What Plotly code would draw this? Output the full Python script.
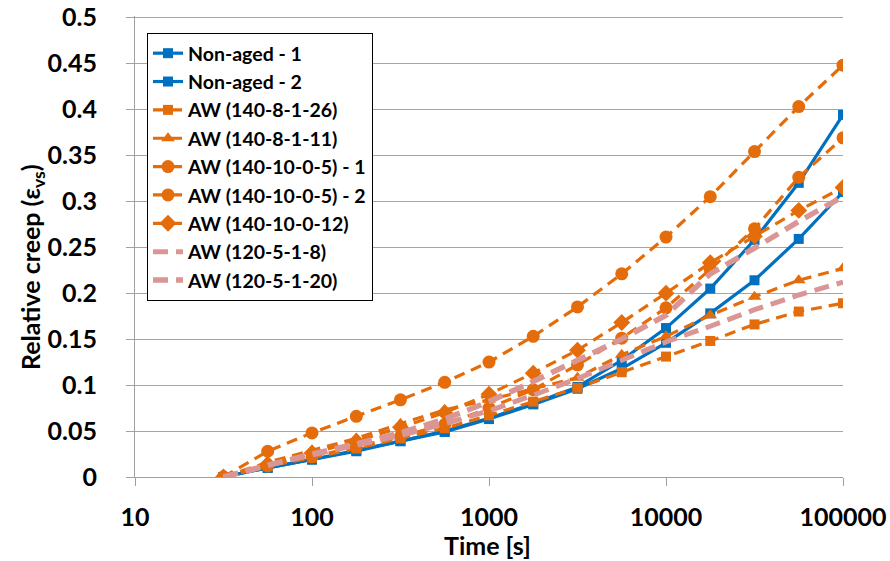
import plotly.graph_objects as go

time_s = [31.6, 56.2, 100, 178, 316, 562, 1000, 1778, 3162, 5623, 10000, 17783, 31623, 56234, 100000]

non_aged_1 = [0, 0.010, 0.019, 0.029, 0.039, 0.050, 0.064, 0.080, 0.098, 0.127, 0.162, 0.205, 0.258, 0.320, 0.394]
non_aged_2 = [0, 0.010, 0.019, 0.028, 0.039, 0.049, 0.063, 0.079, 0.096, 0.118, 0.146, 0.178, 0.214, 0.259, 0.310]
aw_140_8_1_26 = [0, 0.012, 0.021, 0.031, 0.042, 0.053, 0.067, 0.082, 0.097, 0.114, 0.131, 0.148, 0.166, 0.180, 0.189]
aw_140_8_1_11 = [0, 0.016, 0.029, 0.042, 0.058, 0.073, 0.084, 0.096, 0.108, 0.133, 0.153, 0.176, 0.196, 0.214, 0.227]
aw_140_10_0_5_1 = [0, 0.028, 0.048, 0.066, 0.084, 0.103, 0.125, 0.153, 0.185, 0.221, 0.261, 0.305, 0.354, 0.403, 0.448]
aw_140_10_0_5_2 = [0, 0.012, 0.022, 0.033, 0.044, 0.057, 0.075, 0.095, 0.122, 0.151, 0.184, 0.226, 0.270, 0.326, 0.369]
aw_140_10_0_12 = [0, 0.014, 0.026, 0.039, 0.054, 0.070, 0.090, 0.113, 0.138, 0.168, 0.200, 0.233, 0.262, 0.290, 0.315]
aw_120_5_1_8 = [0, 0.013, 0.024, 0.034, 0.045, 0.058, 0.072, 0.089, 0.107, 0.127, 0.147, 0.164, 0.182, 0.198, 0.212]
aw_120_5_1_20 = [0, 0.013, 0.025, 0.036, 0.048, 0.063, 0.082, 0.104, 0.127, 0.150, 0.176, 0.221, 0.249, 0.278, 0.305]

x_tick_vals = [10, 100, 1000, 10000, 100000]
x_tick_text = ["10", "100", "1000", "10000", "100000"]
y_tick_vals = [0, 0.05, 0.1, 0.15, 0.2, 0.25, 0.3, 0.35, 0.4, 0.45, 0.5]
y_tick_text = ["0", "0.05", "0.1", "0.15", "0.2", "0.25", "0.3", "0.35", "0.4", "0.45", "0.5"]

BLUE = "#0070C0"
ORANGE = "#E46C0A"
PINK = "#D99694"
ODASH = "11px,7px"
PDASH = "15px,8px"

series = [
    ("Non-aged - 1", non_aged_1, BLUE, "solid", "square", 10, 3.2),
    ("Non-aged - 2", non_aged_2, BLUE, "solid", "square", 10, 3.2),
    ("AW (140-8-1-26)", aw_140_8_1_26, ORANGE, ODASH, "square", 10, 3.2),
    ("AW (140-8-1-11)", aw_140_8_1_11, ORANGE, ODASH, "triangle-up", 12, 3.2),
    ("AW (140-10-0-5) - 1", aw_140_10_0_5_1, ORANGE, ODASH, "circle", 13, 3.2),
    ("AW (140-10-0-5) - 2", aw_140_10_0_5_2, ORANGE, ODASH, "circle", 13, 3.2),
    ("AW (140-10-0-12)", aw_140_10_0_12, ORANGE, ODASH, "diamond", 13, 3.2),
    ("AW (120-5-1-8)", aw_120_5_1_8, PINK, PDASH, None, 0, 5),
    ("AW (120-5-1-20)", aw_120_5_1_20, PINK, PDASH, None, 0, 5.5),
]

fig = go.Figure()
for i, (name, ys, color, dash, symbol, size, width) in enumerate(series):
    common = dict(x=time_s, y=ys, name=name, legendgroup=f"g{i}",
                  line=dict(color=color, width=width, dash=dash))
    if symbol:
        fig.add_trace(go.Scatter(mode="lines+markers",
                                 marker=dict(symbol=symbol, size=size, color=color),
                                 **common))
    else:
        fig.add_trace(go.Scatter(mode="lines", **common))

# plot area targeted at page x 135..843, y 16..477 (body margin removed below)
L, R, T, B = 135, 890 - 843, 16, 561 - 477
PW = 890 - L - R
PH = 561 - T - B
YMAX = 0.5015

fig.update_layout(
    width=890, height=561,
    margin=dict(l=L, r=R, t=T, b=B),
    paper_bgcolor="white", plot_bgcolor="white",
    font=dict(family="Lato, Open Sans, sans-serif", color="black"),
    showlegend=True,
    legend=dict(
        x=(147 - L) / PW, y=(477 - 33) / PH, xanchor="left", yanchor="top",
        bgcolor="white", bordercolor="black", borderwidth=1,
        font=dict(size=19.5, family="Lato, sans-serif", color="black", weight="bold"),
        tracegroupgap=0,
    ),
    xaxis=dict(
        type="log", range=[1, 5], automargin=False,
        tickvals=x_tick_vals, ticktext=x_tick_text,
        showgrid=False, showline=True, linecolor="#A0A0A0", linewidth=1,
        ticks="outside", ticklen=8, tickcolor="#A0A0A0",
        tickfont=dict(size=25, weight="bold"),
        ticklabelstandoff=10, ticklabeloverflow="allow",
        zeroline=False,
    ),
    yaxis=dict(
        range=[0, YMAX], automargin=False,
        tickvals=y_tick_vals, ticktext=y_tick_text,
        showgrid=True, gridcolor="#A6A6A6", gridwidth=1,
        showline=True, linecolor="#A0A0A0", linewidth=1,
        ticks="outside", ticklen=8, tickcolor="#A0A0A0",
        tickfont=dict(size=25, weight="bold"),
        ticklabelstandoff=24, ticklabeloverflow="allow",
        zeroline=False,
    ),
    annotations=[
        dict(text="<b>Time [s]</b>", xref="paper", yref="paper",
             x=(487 - L) / PW, y=-(545 - 477) / PH, xanchor="center", yanchor="middle",
             showarrow=False, font=dict(size=25, color="black")),
        dict(text="<b>Relative creep (ε<sub>vs</sub>)</b>", xref="paper", yref="paper",
             x=-(L - 32) / PW, y=(477 - 267) / PH, xanchor="center", yanchor="middle",
             textangle=-90, showarrow=False, font=dict(size=25, color="black")),
    ],
)

fig.write_html("out.html", config={"displayModeBar": False},
               post_script="document.body.style.margin='0';")
